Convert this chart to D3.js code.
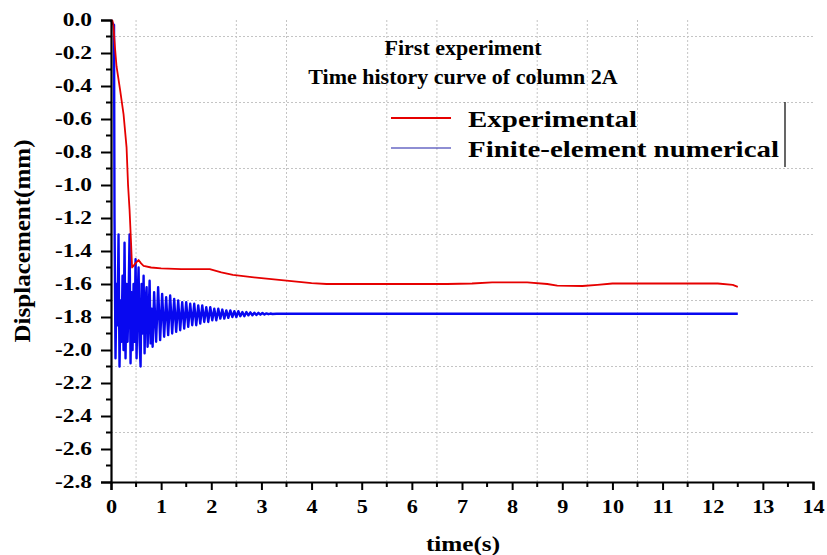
<!DOCTYPE html>
<html>
<head>
<meta charset="utf-8">
<script src="https://cdn.jsdelivr.net/npm/d3@7"></script>
<style>
  body { margin: 0; background: #fff; }
  svg { display: block; }
  text { font-family: "Liberation Serif", "Times New Roman", serif; font-weight: bold; fill: #000; }
</style>
</head>
<body>
<svg id="chart" width="827" height="555"></svg>
<script>
// axis ticks
const xTicks = [0, 1, 2, 3, 4, 5, 6, 7, 8, 9, 10, 11, 12, 13, 14];
const xMinor = [0.5, 1.5, 2.5, 3.5, 4.5, 5.5, 6.5, 7.5, 8.5, 9.5, 10.5, 11.5, 12.5, 13.5];
const yTicks = [0, -0.2, -0.4, -0.6, -0.8, -1.0, -1.2, -1.4, -1.6, -1.8, -2.0, -2.2, -2.4, -2.6, -2.8];
const yMinor = [-0.1, -0.3, -0.5, -0.7, -0.9, -1.1, -1.3, -1.5, -1.7, -1.9, -2.1, -2.3, -2.5, -2.7];
// dotted grid lines as they appear in the picture
const gridX = [0.5, 2.5, 3.5, 5.5, 6.5, 8.5, 9.5, 10.5, 11.5];
const gridY = [-0.1, -0.5, -0.9, -1.3, -1.7, -2.1, -2.5];

// Experimental (t, displacement)
const experimental = [
  [0, 0], [0.03, -0.005], [0.05, -0.04], [0.08, -0.17], [0.11, -0.28], [0.18, -0.42],
  [0.25, -0.57], [0.31, -0.77], [0.34, -1.0], [0.37, -1.15], [0.40, -1.35], [0.42, -1.5],
  [0.45, -1.49], [0.5, -1.47], [0.55, -1.455], [0.6, -1.475], [0.65, -1.49], [0.8, -1.5],
  [1.0, -1.505], [1.4, -1.51], [1.97, -1.51], [2.2, -1.53], [2.43, -1.545], [3.0, -1.565],
  [3.4, -1.577], [4.0, -1.595], [4.3, -1.6], [6.7, -1.6], [7.2, -1.597], [7.6, -1.59],
  [8.3, -1.59], [8.7, -1.6], [8.9, -1.61], [9.4, -1.612], [9.7, -1.605], [10.0, -1.597],
  [12.1, -1.597], [12.4, -1.605], [12.5, -1.617]
];

// Finite-element numerical (t, displacement)
const numerical = [
  [0, 0], [0.03, -0.02], [0.06, -0.03], [0.07, -1.2], [0.09, -2.05], [0.11, -1.6],
  [0.13, -1.85], [0.15, -1.30], [0.17, -2.10], [0.19, -1.7], [0.21, -1.95], [0.23, -1.55],
  [0.25, -2.0], [0.27, -1.35], [0.29, -2.05], [0.31, -1.6], [0.33, -1.95], [0.35, -1.7],
  [0.37, -1.3], [0.39, -2.08], [0.41, -1.65], [0.43, -2.0], [0.45, -1.6], [0.47, -1.95],
  [0.49, -1.45], [0.51, -2.05], [0.53, -1.7], [0.55, -1.5], [0.57, -1.95], [0.59, -2.1],
  [0.61, -1.6], [0.63, -1.9], [0.65, -1.55], [0.67, -2.02], [0.69, -1.7], [0.71, -1.62],
  [0.73, -1.98], [0.75, -1.8], [0.77, -1.58], [0.79, -1.96], [0.81, -1.75], [0.83, -1.98],
  [0.86, -1.65], [0.90, -1.95], [0.94, -1.62], [0.98, -1.94], [1.02, -1.66], [1.06, -1.92],
  [1.10, -1.68], [1.14, -1.91], [1.18, -1.67], [1.22, -1.90], [1.26, -1.69], [1.30, -1.89],
  [1.34, -1.70], [1.38, -1.88], [1.42, -1.71], [1.46, -1.87], [1.50, -1.71], [1.54, -1.86],
  [1.58, -1.72], [1.62, -1.85], [1.66, -1.72], [1.70, -1.85], [1.74, -1.73], [1.78, -1.84],
  [1.82, -1.73], [1.86, -1.83], [1.90, -1.74], [1.94, -1.83], [1.98, -1.74], [2.02, -1.82],
  [2.06, -1.75], [2.10, -1.82], [2.14, -1.75], [2.18, -1.81], [2.22, -1.755], [2.26, -1.81],
  [2.30, -1.76], [2.34, -1.805], [2.38, -1.76], [2.42, -1.80], [2.46, -1.765], [2.50, -1.80],
  [2.54, -1.765], [2.58, -1.795], [2.62, -1.77], [2.66, -1.795], [2.70, -1.77], [2.74, -1.79],
  [2.78, -1.772], [2.82, -1.79], [2.86, -1.774], [2.90, -1.788], [2.94, -1.775], [2.98, -1.786],
  [3.02, -1.776], [3.06, -1.785], [3.10, -1.778], [3.14, -1.783], [3.18, -1.779], [3.22, -1.782],
  [3.3, -1.78], [12.5, -1.78]
];

const titleLines = ["First experiment", "Time history curve of column 2A"];
const seriesNames = ["Experimental", "Finite-element numerical"];
const seriesColors = ["#e60000", "#1f1fa8"];

const svg = d3.select("#chart");
const margin = { top: 20, left: 111, right: 14, bottom: 73 };
const width = 827, height = 555;

const x = d3.scaleLinear().domain([0, 14]).range([margin.left, width - margin.right]);
const y = d3.scaleLinear().domain([-2.8, 0]).range([height - margin.bottom, margin.top]);

// widen glyphs like the source image
function stretch(sel, f) {
  sel.each(function () {
    const w = this.getComputedTextLength();
    d3.select(this).attr("textLength", w * f).attr("lengthAdjust", "spacingAndGlyphs");
  });
}

// grid
const grid = svg.append("g").attr("stroke", "#c4c4c4").attr("stroke-width", 1).attr("stroke-dasharray", "2,2");
grid.selectAll(".gx").data(gridX).join("line")
  .attr("x1", d => x(d)).attr("x2", d => x(d))
  .attr("y1", y(0)).attr("y2", y(-2.8));
grid.selectAll(".gy").data(gridY).join("line")
  .attr("x1", x(0)).attr("x2", x(14))
  .attr("y1", d => y(d)).attr("y2", d => y(d));

// curves
const line = d3.line().x(d => x(d[0])).y(d => y(d[1]));
svg.append("path").datum(numerical)
  .attr("fill", "none").attr("stroke", "#0808f0").attr("stroke-width", 2.4)
  .attr("stroke-linejoin", "round").attr("d", line);
svg.append("path").datum(experimental)
  .attr("fill", "none").attr("stroke", seriesColors[0]).attr("stroke-width", 1.8)
  .attr("stroke-linejoin", "round").attr("d", line);

// axes
const xAxis = svg.append("g")
  .attr("transform", `translate(0,${y(-2.8)})`)
  .call(d3.axisBottom(x).tickValues(xTicks).tickSize(8).tickPadding(9.5).tickFormat(d => d));
xAxis.attr("font-family", null).attr("font-size", null);
xAxis.append("g").selectAll("line").data(xMinor).join("line")
  .attr("x1", d => x(d)).attr("x2", d => x(d)).attr("y1", 0).attr("y2", 5)
  .attr("stroke", "#000").attr("stroke-width", 2);
xAxis.selectAll(".tick text").attr("font-size", 19).call(stretch, 1.17);

const yAxis = svg.append("g")
  .attr("transform", `translate(${x(0)},0)`)
  .call(d3.axisLeft(y).tickValues(yTicks).tickSize(10).tickPadding(9).tickFormat(d => d.toFixed(1)));
yAxis.attr("font-family", null).attr("font-size", null);
yAxis.append("g").selectAll("line").data(yMinor).join("line")
  .attr("x1", 0).attr("x2", -5).attr("y1", d => y(d)).attr("y2", d => y(d))
  .attr("stroke", "#000").attr("stroke-width", 2);
yAxis.selectAll(".tick text").attr("font-size", 18).call(stretch, 1.3);

svg.selectAll(".domain").attr("stroke", "#000").attr("stroke-width", 2.2);
svg.selectAll(".tick line").attr("stroke", "#000").attr("stroke-width", 2);

// axis titles
svg.append("text")
  .attr("x", 463).attr("y", 551).attr("text-anchor", "middle")
  .attr("font-size", 21).text("time(s)").call(stretch, 1.2);
svg.append("text")
  .attr("transform", "translate(30,241) rotate(-90)").attr("text-anchor", "middle")
  .attr("font-size", 23).text("Displacement(mm)").attr("textLength", 203).attr("lengthAdjust", "spacingAndGlyphs");

// title
svg.selectAll(".title").data(titleLines).join("text")
  .attr("class", "title")
  .attr("x", 463).attr("y", (d, i) => 55 + i * 29).attr("text-anchor", "middle")
  .attr("font-size", 22).text(d => d);

// legend
const legend = svg.selectAll(".legend").data(seriesNames).join("g")
  .attr("class", "legend")
  .attr("transform", (d, i) => `translate(391,${118 + i * 30})`);
legend.append("line")
  .attr("x1", 0).attr("x2", 60)
  .attr("stroke", (d, i) => seriesColors[i])
  .attr("stroke-width", (d, i) => i === 0 ? 2 : 1.2);
legend.append("text")
  .attr("x", 77).attr("y", 9).attr("font-size", 24)
  .text(d => d)
  .attr("textLength", (d, i) => i === 0 ? 169 : 311).attr("lengthAdjust", "spacingAndGlyphs");
svg.append("line")
  .attr("x1", 785).attr("x2", 785).attr("y1", 102).attr("y2", 167)
  .attr("stroke", "#000").attr("stroke-width", 1.2);
</script>
</body>
</html>
